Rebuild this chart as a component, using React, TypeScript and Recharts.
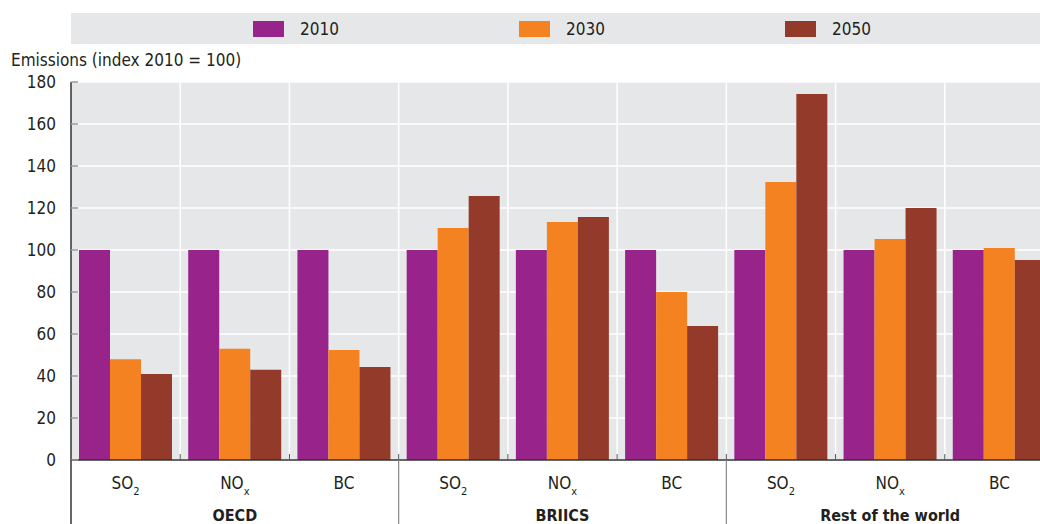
import { BarChart, Bar, XAxis, YAxis, CartesianGrid, Legend } from "recharts";

const categories = ["SO2", "NOx", "BC", "SO2", "NOx", "BC", "SO2", "NOx", "BC"];
const groups = ["OECD", "OECD", "OECD", "BRIICS", "BRIICS", "BRIICS", "Rest of the world", "Rest of the world", "Rest of the world"];
const values2010 = [100, 100, 100, 100, 100, 100, 100, 100, 100];
const values2030 = [48, 53, 52.4, 110.5, 113.3, 80, 132.4, 105.2, 101];
const values2050 = [41, 43, 44.3, 125.7, 115.7, 63.8, 174.3, 120, 95.2];
const yTicks = [0, 20, 40, 60, 80, 100, 120, 140, 160, 180];
const seriesNames = ["2010", "2030", "2050"];
const seriesColors = ["#98238a", "#f48220", "#943a2a"];

const FONT = "'Liberation Sans Narrow', 'DejaVu Sans Condensed', 'Liberation Sans', sans-serif";
const TEXT = "#231f20";
const FS = 17;

const data = categories.map((c, i) => ({
    id: groups[i] + "|" + c,
    y2010: values2010[i],
    y2030: values2030[i],
    y2050: values2050[i]
}));

const subLabel: Record<string, [string, string]> = {
    SO2: ["SO", "2"],
    NOx: ["NO", "x"],
    BC: ["BC", ""]
};

function CategoryTick(props: any) {
    const { x, y, payload } = props;
    const i = payload.index ?? props.index;
    const half = payload.offset || 54.6;
    const [main, sub] = subLabel[categories[i]];
    const first = i % 3 === 0;
    const mid = i % 3 === 1;
    return (
        <g>
            {i > 0 && (
                <line x1={x - half} x2={x - half} y1={y - 6} y2={y} stroke="#555" />
            )}
            {first && (
                <line
                    x1={x - half}
                    x2={x - half}
                    y1={y}
                    y2={y + 70}
                    stroke={i === 0 ? "#333" : "#888"}
                    strokeWidth={i === 0 ? 1.5 : 1.2}
                />
            )}
            <text x={x} y={y + 29} textAnchor="middle" fill={TEXT} fontSize={FS} fontFamily={FONT}>
                {main}
                {sub && (
                    <tspan dy={6} fontSize={11}>{sub}</tspan>
                )}
            </text>
            {mid && (
                <text x={x} y={y + 61} textAnchor="middle" fill={TEXT} fontSize={16} fontWeight="bold" fontFamily={FONT}>
                    {groups[i]}
                </text>
            )}
        </g>
    );
}

function LegendBand() {
    return (
        <div
            style={{
                width: 969,
                height: 31,
                background: "#e6e7e9",
                display: "flex",
                alignItems: "center",
                paddingLeft: 182,
                boxSizing: "border-box",
                fontFamily: FONT,
                fontSize: FS,
                color: TEXT
            }}
        >
            {seriesNames.map((n, i) => (
                <div key={n} style={{ width: 266, flex: "none", display: "flex", alignItems: "center" }}>
                    <span style={{ width: 31, height: 16, background: seriesColors[i], marginRight: 16 }} />
                    <span>{n}</span>
                </div>
            ))}
        </div>
    );
}

export default function App() {
    return (
        <div
            style={{
                position: "fixed",
                left: 0,
                top: 0,
                width: 1040,
                height: 524,
                overflow: "hidden",
                background: "#fff"
            }}
        >
            <div
                style={{
                    position: "absolute",
                    left: 11,
                    top: 52,
                    fontFamily: FONT,
                    fontSize: FS,
                    lineHeight: "17px",
                    color: TEXT,
                    whiteSpace: "nowrap"
                }}
            >
                Emissions (index 2010 = 100)
            </div>
            <BarChart
                width={1060}
                height={524}
                data={data}
                margin={{ top: 82, right: 6, bottom: 0, left: 0 }}
                barCategoryGap={8}
                barGap={0}
            >
                <CartesianGrid
                    fill="#e6e7e9"
                    stroke="#fff"
                    strokeWidth={1.5}
                    verticalCoordinatesGenerator={(p: any) =>
                        categories.slice(1).map((_, i) => p.offset.left + ((i + 1) * p.offset.width) / categories.length)
                    }
                />
                <XAxis
                    dataKey="id"
                    interval={0}
                    height={64}
                    tickSize={0}
                    tickMargin={0}
                    tickLine={false}
                    axisLine={{ stroke: "#333", strokeWidth: 1.5 }}
                    tick={<CategoryTick />}
                />
                <YAxis
                    type="number"
                    domain={[0, 180]}
                    ticks={yTicks}
                    width={71}
                    tickSize={-7}
                    tickMargin={22}
                    axisLine={{ stroke: "#333", strokeWidth: 1.5 }}
                    tickLine={{ stroke: "#999", strokeWidth: 1.5 }}
                    tick={{ fill: TEXT, fontSize: FS, fontFamily: FONT }}
                />
                <Legend
                    verticalAlign="middle"
                    align="center"
                    layout="horizontal"
                    wrapperStyle={{ top: 13, left: 71, width: 969, height: 31 }}
                    content={() => <LegendBand />}
                />
                {seriesNames.map((n, i) => (
                    <Bar
                        key={n}
                        dataKey={"y" + n}
                        name={n}
                        fill={seriesColors[i]}
                        isAnimationActive={false}
                    />
                ))}
            </BarChart>
        </div>
    );
}
